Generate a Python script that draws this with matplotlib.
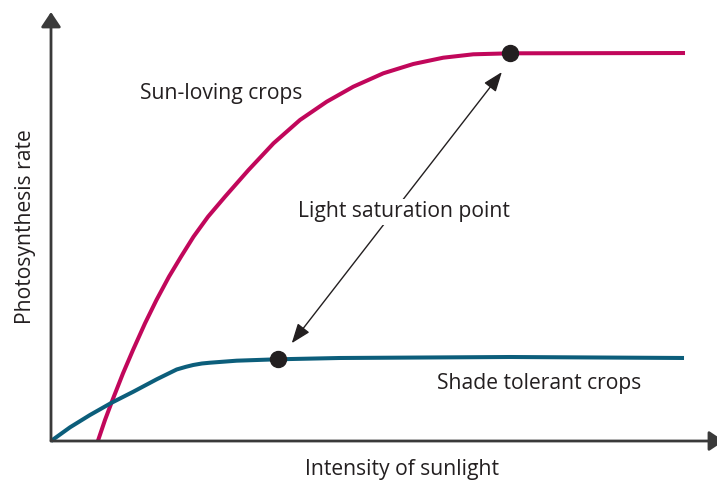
import matplotlib
matplotlib.use("Agg")
import matplotlib.pyplot as plt

# in % of the axis lengths
sun_x = [7.05, 8.12, 9.25, 10.83, 12.33, 14.14, 15.86, 17.74, 19.55, 21.43,
         23.61, 26.17, 29.70, 33.46, 37.44, 41.46, 45.46, 49.97, 54.48,
         58.99, 63.50, 69.02, 95.34]
sun_y = [0.0, 4.90, 9.56, 15.78, 21.21, 27.44, 32.87, 38.30, 42.96, 47.62,
         52.28, 56.95, 63.17, 69.39, 74.83, 79.09, 82.59, 85.71, 87.88,
         89.35, 90.14, 90.37, 90.44]
shade_x = [0.0, 2.86, 5.86, 9.13, 12.38, 15.89, 18.90, 20.30, 21.40, 22.71,
           23.91, 27.92, 33.94, 43.46, 69.02, 95.19]
shade_y = [0.0, 3.19, 6.06, 8.93, 11.49, 14.38, 16.67, 17.30, 17.72, 18.07,
           18.25, 18.72, 19.04, 19.35, 19.58, 19.35]
sat_points = {"sun": (69.02, 90.37), "shade": (34.1, 19.1)}

SUN = "#c1075b"
SHADE = "#0c5e7b"
TXT = "#231f20"
AX = "#3a3a3a"
FS = 15.2

plt.rcParams["font.family"] = ["Open Sans", "DejaVu Sans"]

fig = plt.figure(figsize=(7.17, 4.87), dpi=100)
ax = fig.add_axes([51 / 717, 46 / 487, 665 / 717, 429 / 487])
ax.set_xlim(0, 100)
ax.set_ylim(0, 100)
for s in ax.spines.values():
    s.set_visible(False)
ax.set_xticks([])
ax.set_yticks([])

# axes with arrow heads
ax.annotate("", xy=(0, 1), xytext=(0, 0), xycoords="axes fraction",
            arrowprops=dict(arrowstyle="-|>,head_length=0.9,head_width=0.6",
                            lw=2, color=AX, shrinkA=0, shrinkB=0))
ax.annotate("", xy=(1.012, 0), xytext=(0, 0), xycoords="axes fraction",
            arrowprops=dict(arrowstyle="-|>,head_length=0.9,head_width=0.6",
                            lw=2, color=AX, shrinkA=0, shrinkB=0))

ax.plot(sun_x, sun_y, color=SUN, lw=2.9, solid_capstyle="butt",
        solid_joinstyle="round", clip_on=False)
ax.plot(shade_x, shade_y, color=SHADE, lw=2.9, solid_capstyle="butt",
        solid_joinstyle="round", clip_on=False)

for x, y in sat_points.values():
    ax.plot(x, y, "o", color="#231f20", ms=11.5, zorder=5)

# double arrow between the two saturation points
ax.annotate("", xy=(67.8, 86.0), xytext=(36.2, 22.8),
            arrowprops=dict(arrowstyle="<|-|>,head_length=1.2,head_width=0.45",
                            lw=1.0, color=TXT, shrinkA=0, shrinkB=0))
ax.text(53.1, 53.4, "Light saturation point", fontsize=FS, color=TXT,
        ha="center", va="center",
        bbox=dict(facecolor="white", edgecolor="none", pad=2))

ax.text(13.4, 81.1, "Sun-loving crops", fontsize=FS, color=TXT,
        ha="left", va="center")
ax.text(58.0, 13.3, "Shade tolerant crops", fontsize=FS, color=TXT,
        ha="left", va="center")

fig.text(402 / 717, 1 - 470 / 487, "Intensity of sunlight", fontsize=FS,
         color=TXT, ha="center", va="center")
ax.set_ylabel("Photosynthesis rate", fontsize=FS, color=TXT, labelpad=11)

fig.savefig("out.png", dpi=100)
